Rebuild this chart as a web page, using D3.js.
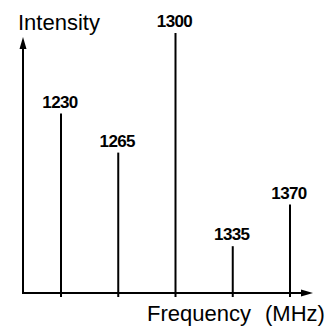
<!DOCTYPE html>
<html>
<head>
<meta charset="utf-8">
<script src="https://cdn.jsdelivr.net/npm/d3@7"></script>
<style>
  body { margin: 0; background: #fff; }
  svg { display: block; }
  text { font-family: "Liberation Sans", Arial, sans-serif; fill: #000; }
</style>
</head>
<body>
<div id="chart"></div>
<script>
// stick spectrum, frequency in MHz, intensity relative to the 1300 line
var frequencies = [1230, 1265, 1300, 1335, 1370];
var intensities = [69, 54, 100, 18, 34];
var freqLabels = ["1230", "1265", "1300", "1335", "1370"];

var width = 335,
    height = 326,
    x0 = 23,        // y axis position
    base = 293;     // x axis position

var svg = d3.select("#chart").append("svg")
    .attr("width", width)
    .attr("height", height);

var x = d3.scaleLinear()
    .domain([1230, 1370])
    .range([61, 290]);

var y = d3.scaleLinear()
    .domain([0, 100])
    .range([base, 33]);

var lines = frequencies.map(function(f, i) {
  return {f: f, v: intensities[i], label: freqLabels[i]};
});

// axes with arrow heads
svg.append("line")
    .attr("x1", x0).attr("y1", base)
    .attr("x2", x0).attr("y2", 46)
    .attr("stroke", "#000").attr("stroke-width", 2);
svg.append("path")
    .attr("d", "M" + x0 + ",37L" + (x0 - 3.5) + ",49L" + (x0 + 3.5) + ",49Z")
    .attr("fill", "#000");

svg.append("line")
    .attr("x1", x0 - 1).attr("y1", base)
    .attr("x2", 304).attr("y2", base)
    .attr("stroke", "#000").attr("stroke-width", 2);
svg.append("path")
    .attr("d", "M313," + base + "L301," + (base - 3.5) + "L301," + (base + 3.5) + "Z")
    .attr("fill", "#000");

// spectral lines
var g = svg.selectAll("g.line")
    .data(lines)
  .enter().append("g")
    .attr("class", "line");

g.append("line")
    .attr("x1", function(d) { return x(d.f); })
    .attr("x2", function(d) { return x(d.f); })
    .attr("y1", base + 4)
    .attr("y2", function(d) { return y(d.v); })
    .attr("stroke", "#000")
    .attr("stroke-width", 2);

g.append("text")
    .attr("x", function(d) { return x(d.f) - 1; })
    .attr("y", function(d) { return y(d.v) - 6; })
    .attr("text-anchor", "middle")
    .attr("font-size", 17)
    .attr("letter-spacing", -0.6)
    .attr("font-weight", "bold")
    .text(function(d) { return d.label; });

// axis titles
svg.append("text")
    .attr("x", 18).attr("y", 30)
    .attr("font-size", 22)
    .text("Intensity");

var xt = svg.append("text")
    .attr("x", 147).attr("y", 321)
    .attr("font-size", 22);
xt.append("tspan").text("Frequency");
xt.append("tspan").attr("x", 265).text("(MHz)");
</script>
</body>
</html>
